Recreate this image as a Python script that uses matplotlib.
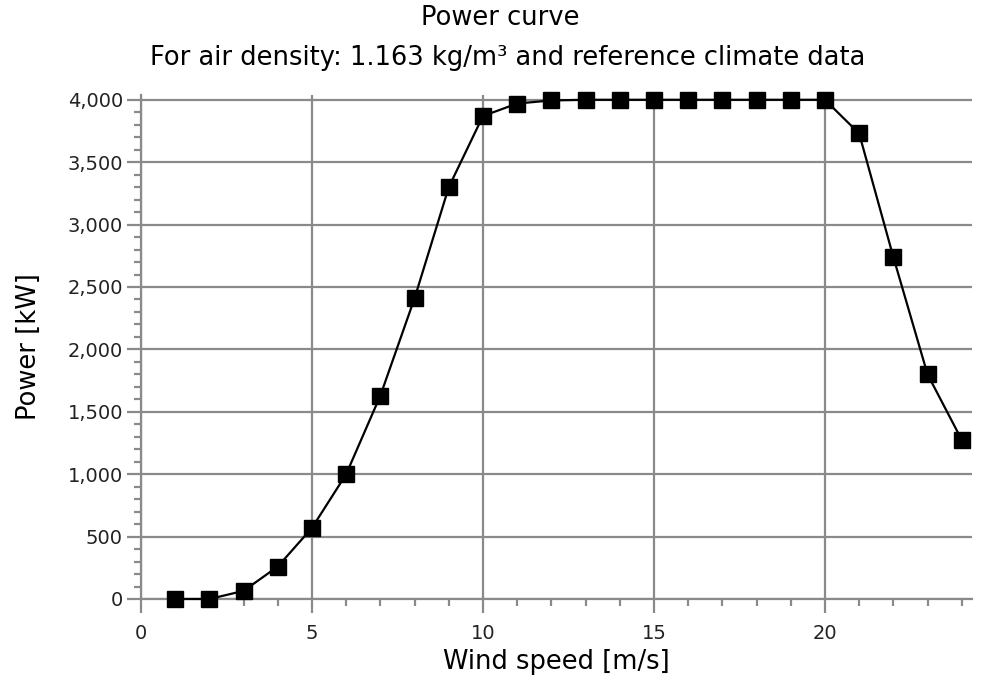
import matplotlib
matplotlib.use("Agg")
import matplotlib.pyplot as plt
from matplotlib.ticker import MultipleLocator, FuncFormatter

wind_speed = list(range(1, 25))
power_kw = [0, 0, 65, 260, 570, 1000, 1630, 2410, 3300, 3870, 3970, 3995,
            4000, 4000, 4000, 4000, 4000, 4000, 4000, 4000, 3730, 2740, 1800, 1275]

title1 = "Power curve"
title2 = "For air density: 1.163 kg/m³ and reference climate data"
xlabel = "Wind speed [m/s]"
ylabel = "Power [kW]"

plt.rcParams['font.family'] = ['DejaVu Sans']

fig = plt.figure(figsize=(10, 6.92), dpi=100)
ax = fig.add_axes([0.141, 0.1344, 0.831, 0.7286])

grid_c = '#8a8a8a'
ax.plot(wind_speed, power_kw, color='black', lw=1.6, marker='s', ms=11.5,
        mfc='black', mec='black', clip_on=False, zorder=3)

ax.set_xlim(0, 24.3)
ax.set_ylim(0, 4040)
ax.xaxis.set_major_locator(MultipleLocator(5))
ax.xaxis.set_minor_locator(MultipleLocator(1))
ax.yaxis.set_major_locator(MultipleLocator(500))
ax.yaxis.set_minor_locator(MultipleLocator(100))
ax.yaxis.set_major_formatter(FuncFormatter(lambda v, p: f"{int(v):,}"))

ax.grid(True, which='major', color=grid_c, lw=1.6)
ax.set_axisbelow(True)
for s in ['top', 'right']:
    ax.spines[s].set_visible(False)
for s in ['left', 'bottom']:
    ax.spines[s].set_color(grid_c)
    ax.spines[s].set_linewidth(1.6)

ax.tick_params(which='major', length=10, width=1.6, color=grid_c, labelsize=14,
               labelcolor='#222222')
ax.tick_params(axis='x', which='major', pad=8)
ax.tick_params(axis='y', which='major', pad=3)
ax.tick_params(which='minor', length=5, width=1.6, color=grid_c)

ax.set_xlabel(xlabel, fontsize=18.5, labelpad=4)
ax.set_ylabel(ylabel, fontsize=18.5, labelpad=18)

fig.text(0.5, 0.974, title1, ha='center', va='center', fontsize=18.5)
fig.text(0.508, 0.916, title2, ha='center', va='center', fontsize=18.5)

fig.savefig("out.png", dpi=100)
